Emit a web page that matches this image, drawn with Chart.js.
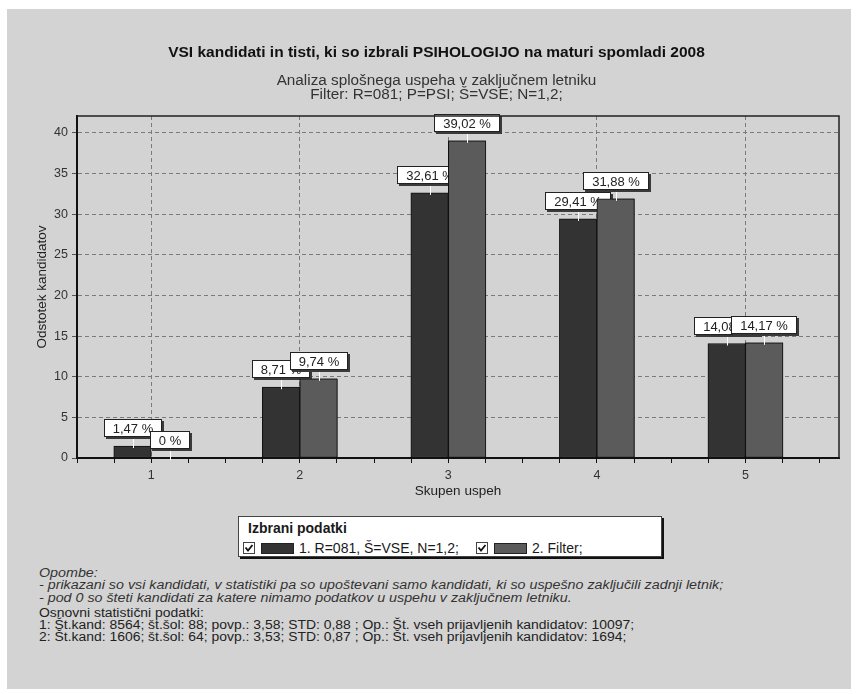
<!DOCTYPE html>
<html>
<head>
<meta charset="utf-8">
<script src="https://cdn.jsdelivr.net/npm/chart.js@4"></script>
<style>
html,body{margin:0;padding:0;background:#fff;}
body{width:858px;height:694px;position:relative;overflow:hidden;font-family:"Liberation Sans",Arial,sans-serif;color:#1e1e1e;}
#panel{position:absolute;left:7px;top:9px;width:844px;height:680px;background:#d3d3d3;}
#wrap{position:absolute;left:0;top:0;width:858px;height:500px;}
#legend{position:absolute;left:238px;top:516px;width:422px;height:39px;background:#fff;border:1px solid #444;box-shadow:2px 2px 0 #111;}
#legend .ttl{position:absolute;left:9px;top:3px;font-weight:bold;font-size:14px;line-height:16px;color:#1a1a1a;}
#legend .item{position:absolute;top:24px;height:14px;}
#legend .cb{position:absolute;left:0;top:1px;width:12px;height:12px;}
#legend .sw{position:absolute;left:18px;top:2px;width:31px;height:9px;border:1px solid #222;}
#legend .lt{position:absolute;left:56px;top:-1px;font-size:14px;line-height:16px;white-space:nowrap;color:#1a1a1a;}
.note{position:absolute;left:39px;font-size:12px;line-height:14px;white-space:nowrap;color:#222;transform-origin:0 50%;transform:scaleX(1.16);}
.it{font-style:italic;color:#333;transform:scaleX(1.19);}
</style>
</head>
<body>
<div id="panel"></div>
<div id="wrap"><canvas id="c" width="858" height="500"></canvas></div>
<div id="legend"><div class="ttl">Izbrani podatki</div></div>
<div class="note it" style="top:566px">Opombe:</div>
<div class="note it" style="top:578px">- prikazani so vsi kandidati, v statistiki pa so upoštevani samo kandidati, ki so uspešno zaključili zadnji letnik;</div>
<div class="note it" style="top:591px">- pod 0 so šteti kandidati za katere nimamo podatkov u uspehu v zaključnem letniku.</div>
<div class="note" style="top:606px">Osnovni statistični podatki:</div>
<div class="note" style="top:618px">1: Št.kand: 8564; št.šol: 88; povp.: 3,58; STD: 0,88 ; Op.: Št. vseh prijavljenih kandidatov: 10097;</div>
<div class="note" style="top:630px">2: Št.kand: 1606; št.šol: 64; povp.: 3,53; STD: 0,87 ; Op.: Št. vseh prijavljenih kandidatov: 1694;</div>
<script>
// ---- data ----
const categories = [1, 2, 3, 4, 5];
const series1 = [1.47, 8.71, 32.61, 29.41, 14.08];
const series2 = [0, 9.74, 39.02, 31.88, 14.17];
const seriesLabels = ['1. R=081, Š=VSE, N=1,2;', '2. Filter;'];
const seriesColors = ['#333333', '#5b5b5b'];
const chartTitle = 'VSI kandidati in tisti, ki so izbrali PSIHOLOGIJO na maturi spomladi 2008';
const chartSubtitle = ['Analiza splošnega uspeha v zaključnem letniku', 'Filter: R=081; P=PSI; Š=VSE; N=1,2;'];
const xAxisTitle = 'Skupen uspeh';
const yAxisTitle = 'Odstotek kandidatov';

const FONT = '"Liberation Sans", Arial, sans-serif';
Chart.defaults.font.family = FONT;
Chart.defaults.color = '#222';

function fmt(v) {
  return v === 0 ? '0 %' : v.toFixed(2).replace('.', ',') + ' %';
}

function drawLabels(chart, di) {
  const ctx = chart.ctx;
  const ds = chart.data.datasets[di];
  const meta = chart.getDatasetMeta(di);
  ctx.save();
  ctx.font = '13px ' + FONT;
  ctx.textAlign = 'center';
  ctx.textBaseline = 'middle';
  meta.data.forEach((bar, i) => {
    const text = fmt(ds.data[i].y);
    const w = Math.round(ctx.measureText(text).width + 18);
    const h = 18;
    const x = Math.round(bar.x);
    const yb = Math.round(bar.y) - 9;
    const left = Math.round(x - w / 2), top = yb - h;
    ctx.fillStyle = '#3a3a3a';
    ctx.fillRect(left + 2, top + 2, w, h);
    ctx.fillStyle = '#ffffff';
    ctx.fillRect(left, top, w, h);
    ctx.strokeStyle = '#222';
    ctx.lineWidth = 1;
    ctx.strokeRect(left + 0.5, top + 0.5, w - 1, h - 1);
    ctx.fillStyle = '#222';
    ctx.fillText(text, left + w / 2, top + h / 2 + 1);
    ctx.strokeStyle = '#ffffff';
    ctx.beginPath();
    ctx.moveTo(x + 0.5, yb + 2);
    ctx.lineTo(x + 0.5, bar.y + 2);
    ctx.stroke();
  });
  ctx.restore();
}

// series 1 labels, then series 2 bars on top of them, then series 2 labels
const valueLabels = {
  id: 'valueLabels',
  afterDatasetsDraw(chart) {
    const {ctx, chartArea: a} = chart;
    drawLabels(chart, 0);
    ctx.save();
    ctx.beginPath();
    ctx.rect(a.left, a.top, a.right - a.left, a.bottom - a.top);
    ctx.clip();
    chart.getDatasetMeta(1).data.forEach(el => el.draw(ctx, a));
    ctx.restore();
    drawLabels(chart, 1);
  }
};

const frame = {
  id: 'frame',
  afterDraw(chart) {
    const {ctx, chartArea: a} = chart;
    ctx.save();
    ctx.strokeStyle = '#222';
    ctx.lineWidth = 1.5;
    ctx.beginPath();
    ctx.moveTo(a.left, a.top);
    ctx.lineTo(a.right, a.top);
    ctx.lineTo(a.right, a.bottom);
    ctx.stroke();
    ctx.restore();
  }
};

const chart = new Chart(document.getElementById('c'), {
  type: 'bar',
  data: {
    datasets: [series1, series2].map((s, k) => ({
      label: seriesLabels[k],
      data: categories.map((c, i) => ({x: c, y: s[i]})),
      backgroundColor: seriesColors[k],
      borderColor: '#111',
      borderWidth: 1,
      borderSkipped: false,
      barThickness: 37.5
    }))
  },
  options: {
    responsive: false,
    animation: false,
    layout: {padding: {left: 34, right: 19, top: 9, bottom: 1}},
    plugins: {
      legend: {display: false},
      tooltip: {enabled: false},
      title: {
        display: true, text: chartTitle, color: '#111',
        font: {size: 15.5, weight: 'bold', lineHeight: 1.2},
        padding: {top: 34.2, bottom: 12.2}
      },
      subtitle: {
        display: true, text: chartSubtitle, color: '#333',
        font: {size: 15.3, lineHeight: '14px'},
        padding: {top: 0, bottom: 14}
      }
    },
    scales: {
      x: {
        type: 'linear',
        min: 0.5, max: 5.63,
        offset: false,
        grid: {
          offset: false,
          color: c => (c.tick && Number.isInteger(c.tick.value) ? '#7a7a7a' : 'rgba(0,0,0,0)'),
          tickColor: '#111',
          tickLength: 5,
          lineWidth: 1
        },
        border: {display: true, color: '#111', width: 2, dash: [4, 3]},
        ticks: {
          stepSize: 0.25, autoSkip: false, maxRotation: 0, includeBounds: false,
          padding: 5, color: '#333', font: {size: 12.5},
          callback: v => (Number.isInteger(v) ? String(v) : '')
        },
        title: {display: true, text: xAxisTitle, color: '#222', font: {size: 13.5}, padding: {top: 0, bottom: 0}},
        afterFit: s => { s.height = 41; }
      },
      y: {
        min: 0, max: 42.07,
        grid: {color: '#7a7a7a', tickColor: '#555', tickLength: 5},
        border: {display: true, color: '#111', width: 2, dash: [4, 3]},
        ticks: {stepSize: 5, includeBounds: false, padding: 4, color: '#333', font: {size: 12.5}},
        title: {display: true, text: yAxisTitle, color: '#222', font: {size: 13.5}, padding: {top: 0, bottom: 0}},
        afterFit: s => { s.width = 43; }
      }
    }
  },
  plugins: [valueLabels, frame]
});

// HTML legend built from datasets
const legend = document.getElementById('legend');
const itemX = [4, 237];
chart.data.datasets.forEach((ds, k) => {
  const it = document.createElement('div');
  it.className = 'item';
  it.style.left = itemX[k] + 'px';
  it.innerHTML =
    '<svg class="cb" viewBox="0 0 12 12"><rect x="0.5" y="0.5" width="11" height="11" fill="#fff" stroke="#444"/>' +
    '<polyline points="2.5,5.5 5,8.5 9.5,3" fill="none" stroke="#111" stroke-width="1.8"/></svg>' +
    '<div class="sw" style="background:' + ds.backgroundColor + '"></div>' +
    '<div class="lt">' + ds.label + '</div>';
  legend.appendChild(it);
});
</script>
</body>
</html>
